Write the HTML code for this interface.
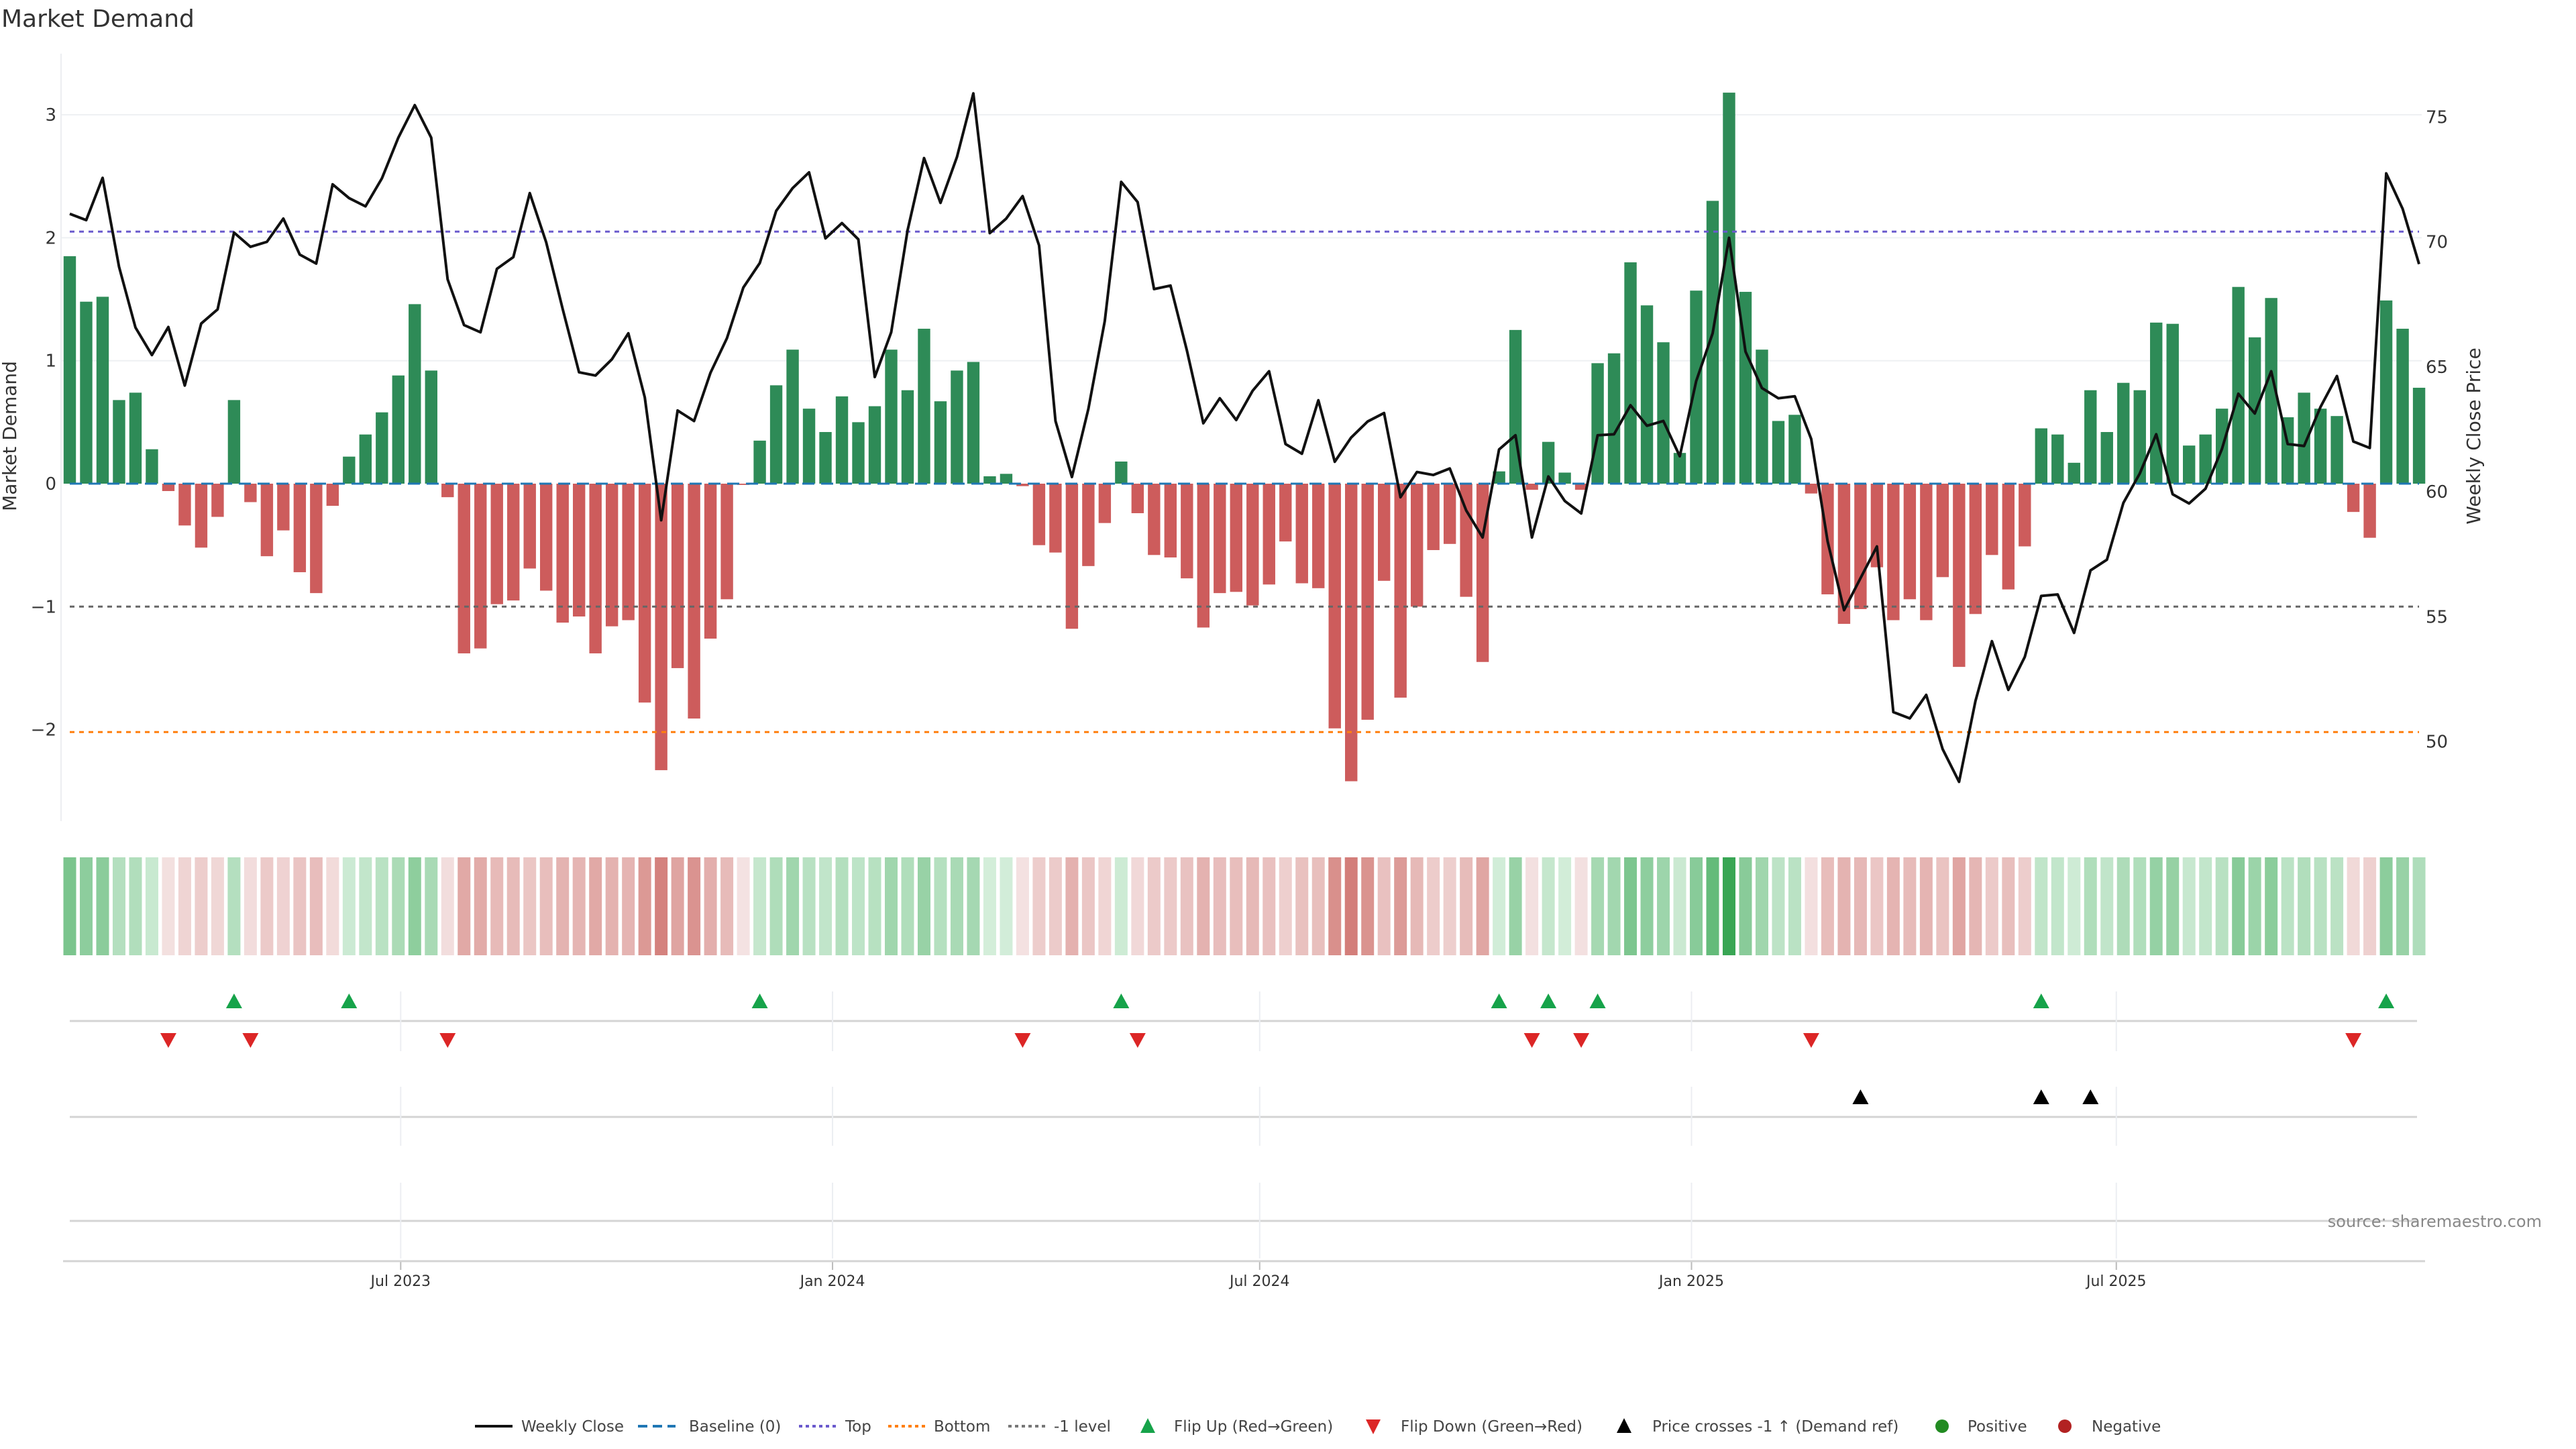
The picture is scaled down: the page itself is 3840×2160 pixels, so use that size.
<!DOCTYPE html>
<html><head><meta charset="utf-8"><style>
html,body{margin:0;padding:0;background:#fff;}
svg{display:block;font-family:"DejaVu Sans","Liberation Sans",sans-serif;}
</style></head><body>
<svg id="chart" width="3840" height="2160" viewBox="0 0 3840 2160" xmlns="http://www.w3.org/2000/svg">
<rect width="3840" height="2160" fill="#fff"/>
<text x="2" y="40" font-size="36" fill="#333">Market Demand</text>
<g id="main"></g>
</svg>
<script>
const demand = [1.85,1.48,1.52,0.68,0.74,0.28,-0.06,-0.34,-0.52,-0.27,0.68,-0.15,-0.59,-0.38,-0.72,-0.89,-0.18,0.22,0.40,0.58,0.88,1.46,0.92,-0.11,-1.38,-1.34,-0.98,-0.95,-0.69,-0.87,-1.13,-1.08,-1.38,-1.16,-1.11,-1.78,-2.33,-1.50,-1.91,-1.26,-0.94,-0.01,0.35,0.80,1.09,0.61,0.42,0.71,0.50,0.63,1.09,0.76,1.26,0.67,0.92,0.99,0.06,0.08,-0.02,-0.50,-0.56,-1.18,-0.67,-0.32,0.18,-0.24,-0.58,-0.60,-0.77,-1.17,-0.89,-0.88,-0.99,-0.82,-0.47,-0.81,-0.85,-1.99,-2.42,-1.92,-0.79,-1.74,-1.00,-0.54,-0.49,-0.92,-1.45,0.10,1.25,-0.05,0.34,0.09,-0.05,0.98,1.06,1.80,1.45,1.15,0.25,1.57,2.30,3.18,1.56,1.09,0.51,0.56,-0.08,-0.90,-1.14,-1.02,-0.68,-1.11,-0.94,-1.11,-0.76,-1.49,-1.06,-0.58,-0.86,-0.51,0.45,0.40,0.17,0.76,0.42,0.82,0.76,1.31,1.30,0.31,0.40,0.61,1.60,1.19,1.51,0.54,0.74,0.61,0.55,-0.23,-0.44,1.49,1.26,0.78];
const price = [71.12,70.87,72.56,69.0,66.57,65.47,66.59,64.25,66.73,67.30,70.37,69.80,70.0,70.93,69.49,69.13,72.30,71.75,71.42,72.54,74.17,75.47,74.17,68.5,66.67,66.38,68.92,69.39,71.95,69.98,67.32,64.78,64.65,65.30,66.34,63.78,58.86,63.25,62.83,64.76,66.14,68.17,69.15,71.24,72.15,72.78,70.14,70.75,70.10,64.59,66.38,70.47,73.35,71.56,73.39,75.94,70.35,70.93,71.83,69.86,62.83,60.59,63.31,66.83,72.40,71.59,68.11,68.25,65.65,62.74,63.74,62.87,64.04,64.82,61.91,61.52,63.66,61.20,62.17,62.81,63.15,59.78,60.79,60.67,60.93,59.25,58.17,61.69,62.26,58.17,60.61,59.63,59.13,62.26,62.30,63.46,62.64,62.83,61.42,64.43,66.34,70.16,65.61,64.15,63.74,63.82,62.11,58.01,55.26,56.54,57.81,51.18,50.93,51.87,49.70,48.39,51.63,54.02,52.07,53.39,55.83,55.89,54.35,56.85,57.28,59.55,60.73,62.30,59.90,59.53,60.12,61.71,63.92,63.13,64.82,61.91,61.83,63.39,64.63,62.01,61.75,72.74,71.32,69.11];
const priceCrossIdx = [109,120,123];
const leftTicks = [3,2,1,0,-1,-2];
const leftTickLabels = ["3","2","1","0","\u22121","\u22122"];
const rightTicks = [50,55,60,65,70,75];
const refLevels = [2.05,-2.02,-1];
const xTickDates = ["2023-07-01","2024-01-01","2024-07-01","2025-01-01","2025-07-01"];
const xTickLabels = ["Jul 2023","Jan 2024","Jul 2024","Jan 2025","Jul 2025"];
const startDate = "2023-02-10";

const NS="http://www.w3.org/2000/svg";
const g=document.getElementById('main');
function mk(tag,attrs,parent){const e=document.createElementNS(NS,tag);for(const k in attrs)e.setAttribute(k,attrs[k]);(parent||g).appendChild(e);return e;}
const X0=104, STEP=24.49;
const xi=i=>X0+i*STEP;
const xDate=d=>X0+((new Date(d)-new Date(startDate))/86400000/7)*STEP;
const yD=v=>721-v*183.3;
const yP=p=>733-(p-60)*37.25;
const xEnd=xi(demand.length-1);

leftTicks.forEach((t,k)=>{
  if(t>0){const l=mk('line',{x1:92,x2:3610,y1:yD(t),y2:yD(t),stroke:'#eef0f3','stroke-width':2});
  
  }
  const tx=mk('text',{x:84,y:yD(t)+9,'font-size':26,fill:'#333','text-anchor':'end'});
  tx.textContent=leftTickLabels[k];
  
  
});
rightTicks.forEach(t=>{
  const tx=mk('text',{x:3616,y:yP(t)+9,'font-size':26,fill:'#333'});
  tx.textContent=String(t);
  
  
});
const ax=mk('line',{x1:91,x2:91,y1:80,y2:1224,stroke:'#eceef1','stroke-width':2});


const lt=mk('text',{x:0,y:0,'font-size':28,fill:'#333','text-anchor':'middle',transform:'translate(24,650) rotate(-90)'});
lt.textContent='Market Demand';


const rt=mk('text',{x:0,y:0,'font-size':28,fill:'#333','text-anchor':'middle',transform:'translate(3697,650) rotate(-90)'});
rt.textContent='Weekly Close Price';



demand.forEach((v,i)=>{
  const y0=yD(0),y1=yD(v);
  const b=mk('rect',{x:xi(i)-9.2,y:Math.min(y0,y1),width:18.4,height:Math.max(Math.abs(y1-y0),0.8),fill:v>=0?'#2e8b57':'#cd5c5c'});
  
  
});
const base=mk('line',{x1:X0,x2:xEnd,y1:yD(0),y2:yD(0),stroke:'#1f77b4','stroke-width':3,'stroke-dasharray':'18,10'});


const refCols=['#6a5acd','#ff7f0e','#666'];
const refNames=['top-line','bottom-line','minus-one-level-line'];
refLevels.forEach((v,k)=>{
  const l=mk('line',{x1:X0,x2:xEnd,y1:yD(v),y2:yD(v),stroke:refCols[k],'stroke-width':3,'stroke-dasharray':'7,7'});
  
  
});
const pl=mk('polyline',{points:price.map((p,i)=>xi(i)+','+yP(p)).join(' '),fill:'none',stroke:'#111','stroke-width':4,'stroke-linejoin':'round'});



function mix(a,b,t){const h=s=>[1,3,5].map(j=>parseInt(s.substr(j,2),16));const A=h(a),B=h(b);return 'rgb('+A.map((c,j)=>Math.round(c+(B[j]-c)*t)).join(',')+')';}
demand.forEach((v,i)=>{
  const t=Math.min(Math.abs(v)/3.2,1);
  const c=v>=0?mix('#d6efdc','#38a653',t):mix('#f4e2e2','#c85e58',t);
  const r=mk('rect',{x:xi(i)-9.5,y:1278,width:19,height:146,fill:c});
  
  
});

[1522,1665,1820].forEach(y=>{
  const l=mk('line',{x1:104,x2:3603,y1:y,y2:y,stroke:'#d4d4d4','stroke-width':3});
  
  
});
xTickDates.forEach((d,k)=>{
  const x=xDate(d);
  [[1478,1567],[1620,1708],[1763,1876]].forEach(s=>{
    const l=mk('line',{x1:x,x2:x,y1:s[0],y2:s[1],stroke:'#eceef2','stroke-width':2});
    
    
  });
  const tk=mk('line',{x1:x,x2:x,y1:1880,y2:1893,stroke:'#bbb','stroke-width':2});
  
  
  const tx=mk('text',{x:x,y:1917,'font-size':22,fill:'#333','text-anchor':'middle'});
  tx.textContent=xTickLabels[k];
  
  
});
const xa=mk('line',{x1:94,x2:3615,y1:1880,y2:1880,stroke:'#d4d4d4','stroke-width':3});



function tri(x,y,up,fill,name){
  const s=12;
  const pts=up?`${x-s},${y+10} ${x+s},${y+10} ${x},${y-12}`:`${x-s},${y-10} ${x+s},${y-10} ${x},${y+12}`;
  const t=mk('polygon',{points:pts,fill:fill});
  
  
}
for(let i=1;i<demand.length;i++){
  if(demand[i-1]<0&&demand[i]>=0)tri(xi(i),1493,true,'#16a34a','flip-up-marker');
  if(demand[i-1]>=0&&demand[i]<0)tri(xi(i),1550,false,'#dc2626','flip-down-marker');
}
priceCrossIdx.forEach(i=>tri(xi(i),1636,true,'#000','price-cross-marker'));

const src=mk('text',{x:3789,y:1829,'font-size':24,fill:'#888','text-anchor':'end'});
src.textContent='source: sharemaestro.com';



const LY=2126;
const legItems=[
 {t:'line',x:708,c:'#111',d:'',label:'Weekly Close',lx:777,n:'legend-weekly-close'},
 {t:'line',x:951,c:'#1f77b4',d:'14,8',label:'Baseline (0)',lx:1027,n:'legend-baseline'},
 {t:'line',x:1191,c:'#6a5acd',d:'5,5',label:'Top',lx:1260,n:'legend-top'},
 {t:'line',x:1324,c:'#ff7f0e',d:'5,5',label:'Bottom',lx:1392,n:'legend-bottom'},
 {t:'line',x:1503,c:'#777',d:'5,5',label:'-1 level',lx:1571,n:'legend-minus-one'},
 {t:'up',x:1711,c:'#16a34a',label:'Flip Up (Red\u2192Green)',lx:1750,n:'legend-flip-up'},
 {t:'down',x:2047,c:'#dc2626',label:'Flip Down (Green\u2192Red)',lx:2088,n:'legend-flip-down'},
 {t:'up',x:2421,c:'#000',label:'Price crosses -1 \u2191 (Demand ref)',lx:2463,n:'legend-price-cross'},
 {t:'dot',x:2895,c:'#228b22',label:'Positive',lx:2933,n:'legend-positive'},
 {t:'dot',x:3078,c:'#b22222',label:'Negative',lx:3118,n:'legend-negative'}
];
legItems.forEach(it=>{
  const grp=mk('g',{});
  
  
  if(it.t==='line'){mk('line',{x1:it.x,x2:it.x+56,y1:LY,y2:LY,stroke:it.c,'stroke-width':4,'stroke-dasharray':it.d},grp);}
  else if(it.t==='dot'){mk('circle',{cx:it.x,cy:LY,r:10,fill:it.c},grp);}
  else{const s=11;const pts=it.t==='up'?`${it.x-s},${LY+10} ${it.x+s},${LY+10} ${it.x},${LY-12}`:`${it.x-s},${LY-10} ${it.x+s},${LY-10} ${it.x},${LY+12}`;mk('polygon',{points:pts,fill:it.c},grp);}
  const tx=mk('text',{x:it.lx,y:LY+8,'font-size':23,fill:'#444'},grp);
  tx.textContent=it.label;
});
</script>
</body></html>
